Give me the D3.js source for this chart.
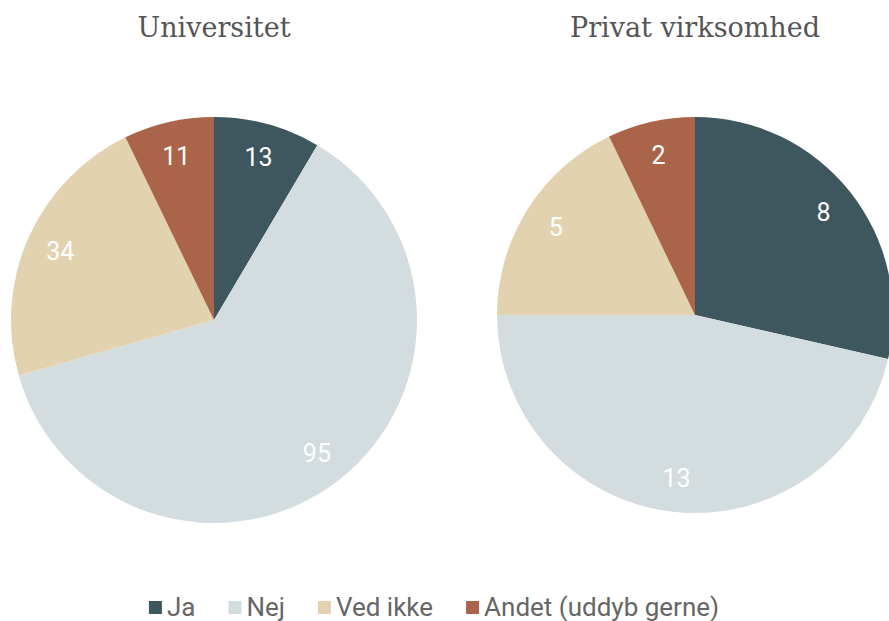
<!DOCTYPE html>
<html lang="da">
<head>
    <meta charset="UTF-8">
    <title>Pies</title>
    <script src="https://d3js.org/d3.v7.min.js"></script>
    <style>
        body{margin: 0; background: #fff;}
    </style>
</head>
<body>
    <div id="plot"></div>
    <script>
        function translate(x, y){
            return 'translate(' + x + ', ' + y + ')';
        }

        let categories = ['Ja', 'Nej', 'Ved ikke', 'Andet (uddyb gerne)'];
        let colors = ['#3e565d', '#d3dde0', '#e3d2b0', '#a9644a'];
        let titles = ['Universitet', 'Privat virksomhed'];
        let universitet = [13, 95, 34, 11];
        let privat = [8, 13, 5, 2];

        let svgWidth = 889;
        let svgHeight = 621;

        let svg = d3.select('#plot')
                    .append('svg')
                        .attr('width', svgWidth)
                        .attr('height', svgHeight);

        let color = d3.scaleOrdinal().domain(categories).range(colors);

        let pie = d3.pie().sort(null).value(d => d.value);

        let charts = [
            {title: titles[0], values: universitet, cx: 214, cy: 320, r: 203},
            {title: titles[1], values: privat, cx: 695, cy: 315, r: 198}
        ];

        charts.forEach(function(c){
            let g = svg.append('g').attr('transform', translate(c.cx, c.cy));
            let data = categories.map((k, i) => ({key: k, value: c.values[i]}));
            let arc = d3.arc().innerRadius(0).outerRadius(c.r);
            let labelArc = d3.arc().innerRadius(c.r * 0.83).outerRadius(c.r * 0.83);

            g.selectAll('path')
                .data(pie(data))
                .join('path')
                .attr('d', arc)
                .attr('fill', d => color(d.data.key));

            g.selectAll('text.lbl')
                .data(pie(data))
                .join('text')
                .attr('class', 'lbl')
                .attr('transform', d => translate(...labelArc.centroid(d)))
                .attr('text-anchor', 'middle')
                .attr('dy', '0.35em')
                .attr('fill', '#fff')
                .style('font-family', 'Roboto, sans-serif')
                .style('font-size', '25px')
                .text(d => d.data.value);

            svg.append('text')
                .attr('x', c.cx)
                .attr('y', 37)
                .attr('text-anchor', 'middle')
                .attr('fill', '#555')
                .style('font-family', '"DejaVu Serif", serif')
                .style('font-size', '27px')
                .text(c.title);
        });

        // legend, laid out from measured text widths and centred
        let legend = svg.append('g');
        let items = categories.map(function(k){
            let g = legend.append('g');
            g.append('rect')
                .attr('x', 0)
                .attr('y', -15)
                .attr('width', 13)
                .attr('height', 13)
                .attr('fill', color(k));
            let t = g.append('text')
                .attr('x', 18)
                .attr('y', 0)
                .attr('fill', '#666')
                .style('font-family', 'Roboto, sans-serif')
                .style('font-size', '26px')
                .text(k);
            return {g: g, w: 18 + t.node().getComputedTextLength()};
        });
        let gap = 33;
        let total = d3.sum(items, d => d.w) + gap * (items.length - 1);
        let lx = 434 - total / 2;
        items.forEach(function(it){
            it.g.attr('transform', translate(lx, 616));
            lx += it.w + gap;
        });
    </script>
</body>
</html>
